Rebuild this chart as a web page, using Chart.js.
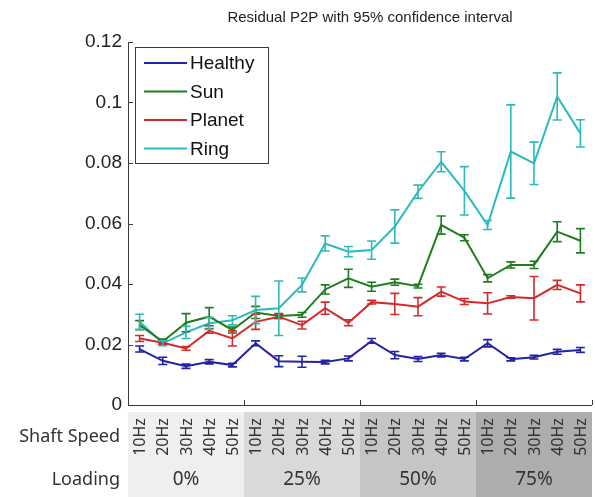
<!DOCTYPE html>
<html>
<head>
<meta charset="utf-8">
<script src="https://cdn.jsdelivr.net/npm/chart.js@4.4.0/dist/chart.umd.min.js"></script>
<style>
  html, body { margin: 0; padding: 0; background: #fff; }
  #wrap { width: 595px; height: 497px; position: relative; }
</style>
</head>
<body>
<div id="wrap"><canvas id="chart" width="595" height="497"></canvas></div>
<script>
// categories
const speeds = ['10Hz', '20Hz', '30Hz', '40Hz', '50Hz'];
const loadings = ['0%', '25%', '50%', '75%'];
const yTickValues = [0, 0.02, 0.04, 0.06, 0.08, 0.1, 0.12];

// mean residual P2P per condition (4 loadings x 5 speeds)
const healthy = [0.0185, 0.0146, 0.0128, 0.0143, 0.0132, 0.0204, 0.0145, 0.0143, 0.0142, 0.0154,
                 0.0212, 0.0165, 0.0152, 0.0165, 0.0152, 0.0204, 0.0151, 0.0158, 0.0176, 0.0182];
const sun     = [0.0264, 0.0210, 0.0272, 0.0292, 0.0248, 0.0306, 0.0294, 0.0298, 0.0382, 0.0419,
                 0.0391, 0.0406, 0.0393, 0.0595, 0.0553, 0.0419, 0.0463, 0.0463, 0.0573, 0.0543];
const planet  = [0.0220, 0.0206, 0.0187, 0.0245, 0.0220, 0.0275, 0.0292, 0.0264, 0.0320, 0.0272,
                 0.0340, 0.0334, 0.0325, 0.0375, 0.0342, 0.0336, 0.0357, 0.0353, 0.0397, 0.0369];
const ring    = [0.0275, 0.0204, 0.0240, 0.0270, 0.0280, 0.0314, 0.0320, 0.0397, 0.0534, 0.0507,
                 0.0512, 0.0590, 0.0705, 0.0804, 0.0708, 0.0595, 0.0838, 0.0799, 0.1020, 0.0898];

// half width of the 95% confidence interval
const healthyErr = [0.0010, 0.0012, 0.0007, 0.0007, 0.0006, 0.0008, 0.0018, 0.0018, 0.0006, 0.0008,
                    0.0008, 0.0012, 0.0008, 0.0006, 0.0006, 0.0012, 0.0005, 0.0006, 0.0008, 0.0008];
const sunErr     = [0.0015, 0.0008, 0.0030, 0.0030, 0.0010, 0.0020, 0.0008, 0.0008, 0.0015, 0.0030,
                    0.0015, 0.0010, 0.0006, 0.0030, 0.0010, 0.0012, 0.0010, 0.0012, 0.0033, 0.0040];
const planetErr  = [0.0010, 0.0006, 0.0006, 0.0008, 0.0025, 0.0025, 0.0006, 0.0013, 0.0020, 0.0010,
                    0.0006, 0.0035, 0.0030, 0.0015, 0.0010, 0.0035, 0.0004, 0.0072, 0.0015, 0.0028];
const ringErr    = [0.0025, 0.0008, 0.0020, 0.0020, 0.0015, 0.0045, 0.0090, 0.0023, 0.0025, 0.0017,
                    0.0030, 0.0055, 0.0022, 0.0033, 0.0080, 0.0015, 0.0154, 0.0070, 0.0078, 0.0045];

const labels = loadings.flatMap(() => speeds);

const groupShades = ['#efefef', '#d9d9d9', '#c5c5c5', '#adadad'];
const axisColor = '#3a3a3a';
const textColor = '#222';

function errorSeries(label, data, err, color) {
  return {
    label, data, err,
    borderColor: color,
    backgroundColor: color,
    borderWidth: 2,
    pointRadius: 0,
    tension: 0
  };
}

const decor = {
  id: 'decor',
  beforeDraw(chart) {
    const { ctx, chartArea: a, scales: { x } } = chart;
    const half = (x.getPixelForValue(1) - x.getPixelForValue(0)) / 2;
    ctx.save();
    ctx.fillStyle = '#fff';
    ctx.fillRect(0, 0, chart.width, chart.height);

    // title
    ctx.fillStyle = textColor;
    ctx.font = '15px "Liberation Sans", Arial, sans-serif';
    ctx.textAlign = 'center';
    ctx.textBaseline = 'middle';
    ctx.fillText('Residual P2P with 95% confidence interval', 370, 18);

    // table under the axis
    const top = a.bottom + 7, mid = 462, bottom = chart.height;
    loadings.forEach((ld, g) => {
      const x0 = x.getPixelForValue(g * 5) - half;
      const x1 = x.getPixelForValue(g * 5 + 4) + half;
      ctx.fillStyle = groupShades[g];
      ctx.fillRect(x0, top, x1 - x0, bottom - top);
      ctx.fillStyle = '#333';
      ctx.font = '19px "Noto Sans", sans-serif';
      ctx.textAlign = 'center';
      ctx.textBaseline = 'middle';
      ctx.fillText(ld, (x0 + x1) / 2, 480);
      speeds.forEach((sp, k) => {
        const cx = x.getPixelForValue(g * 5 + k);
        ctx.save();
        ctx.translate(cx, (top + mid) / 2);
        ctx.rotate(-Math.PI / 2);
        ctx.font = '16px "Noto Sans", sans-serif';
        ctx.fillText(sp, 0, 1);
        ctx.restore();
      });
    });
    ctx.fillStyle = '#333';
    ctx.font = '18px "Noto Sans", sans-serif';
    ctx.textAlign = 'right';
    ctx.textBaseline = 'middle';
    ctx.fillText('Shaft Speed', 120, (top + mid) / 2);
    ctx.fillText('Loading', 120, 480);
    ctx.restore();
  },
  afterDatasetsDraw(chart) {
    const { ctx, scales: { x, y } } = chart;
    ctx.save();
    ctx.lineWidth = 1.6;
    chart.data.datasets.forEach(ds => {
      ctx.strokeStyle = ds.borderColor;
      ds.data.forEach((v, i) => {
        const px = x.getPixelForValue(i);
        const yt = y.getPixelForValue(v + ds.err[i]);
        const yb = y.getPixelForValue(v - ds.err[i]);
        ctx.beginPath();
        ctx.moveTo(px, yt); ctx.lineTo(px, yb);
        ctx.moveTo(px - 4.5, yt); ctx.lineTo(px + 4.5, yt);
        ctx.moveTo(px - 4.5, yb); ctx.lineTo(px + 4.5, yb);
        ctx.stroke();
      });
    });
    ctx.restore();
  },
  afterDraw(chart) {
    const { ctx, chartArea: a, scales: { x, y } } = chart;
    const half = (x.getPixelForValue(1) - x.getPixelForValue(0)) / 2;
    ctx.save();
    ctx.strokeStyle = axisColor;
    ctx.lineWidth = 1;
    ctx.beginPath();
    ctx.moveTo(a.left + 0.5, a.top);
    ctx.lineTo(a.left + 0.5, a.bottom + 0.5);
    ctx.lineTo(a.right, a.bottom + 0.5);
    yTickValues.forEach(v => {
      const py = Math.round(y.getPixelForValue(v)) + 0.5;
      ctx.moveTo(a.left, py); ctx.lineTo(a.left + 5, py);
    });
    for (let g = 0; g <= loadings.length; g++) {
      const px = Math.round(x.getPixelForValue(g * 5) - half) + 0.5;
      ctx.moveTo(px, a.bottom); ctx.lineTo(px, a.bottom - 5);
    }
    ctx.stroke();

    // legend
    const lx = 135, ly = 47, lw = 133, lh = 116;
    ctx.fillStyle = '#fff';
    ctx.fillRect(lx, ly, lw, lh);
    ctx.strokeRect(lx + 0.5, ly + 0.5, lw, lh);
    ctx.font = '19px "Liberation Sans", Arial, sans-serif';
    ctx.textAlign = 'left';
    ctx.textBaseline = 'middle';
    chart.data.datasets.forEach((ds, i) => {
      const ry = ly + 16 + i * 28.5;
      ctx.strokeStyle = ds.borderColor;
      ctx.lineWidth = 2;
      ctx.beginPath();
      ctx.moveTo(144, ry); ctx.lineTo(187, ry);
      ctx.stroke();
      ctx.fillStyle = '#111';
      ctx.fillText(ds.label, 190, ry + 1);
    });
    ctx.restore();
  }
};

new Chart(document.getElementById('chart'), {
  type: 'line',
  data: {
    labels,
    datasets: [
      errorSeries('Healthy', healthy, healthyErr, '#2323a8'),
      errorSeries('Sun', sun, sunErr, '#1f7d1f'),
      errorSeries('Planet', planet, planetErr, '#d42a2a'),
      errorSeries('Ring', ring, ringErr, '#2cbaba')
    ]
  },
  options: {
    responsive: false,
    animation: false,
    layout: { padding: { top: 42, right: 3, bottom: 92, left: 0 } },
    plugins: { legend: { display: false }, title: { display: false }, tooltip: { enabled: false } },
    scales: {
      x: { type: 'category', offset: true, display: false },
      y: {
        min: 0, max: 0.12,
        afterFit: s => { s.width = 128; },
        afterBuildTicks: s => { s.ticks = yTickValues.map(v => ({ value: v })); },
        grid: { display: false, tickLength: 0 },
        border: { display: false },
        ticks: {
          padding: 6,
          color: textColor,
          font: { family: '"Liberation Sans", Arial, sans-serif', size: 19 },
          callback: v => String(+v.toFixed(2))
        }
      }
    }
  },
  plugins: [decor]
});
</script>
</body>
</html>
